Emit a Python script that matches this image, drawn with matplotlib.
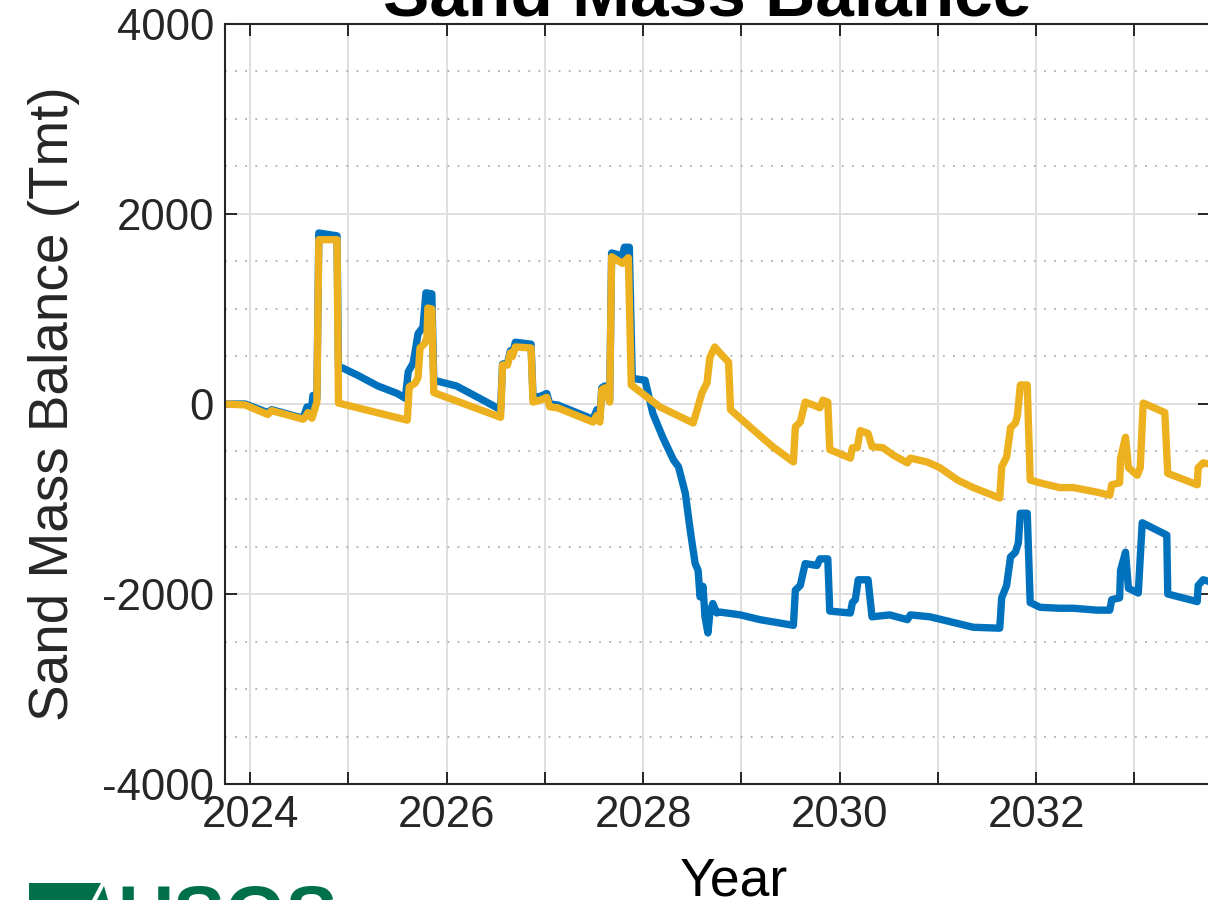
import matplotlib
matplotlib.use("Agg")
import matplotlib.pyplot as plt
from matplotlib.ticker import FixedLocator, FuncFormatter, MultipleLocator
from matplotlib.patches import Polygon

plt.rcParams['font.family'] = ['Liberation Sans', 'DejaVu Sans']

# series 1 (blue)
years_1 = [2023.75, 2023.95, 2024.18, 2024.22, 2024.54, 2024.58, 2024.62, 2024.64, 2024.68, 2024.70,
           2024.885, 2024.90, 2024.94, 2025.10, 2025.30, 2025.50, 2025.58, 2025.61, 2025.66, 2025.71,
           2025.76, 2025.79, 2025.85, 2025.87, 2026.10, 2026.30, 2026.55, 2026.57, 2026.62, 2026.65,
           2026.67, 2026.70, 2026.86, 2026.88, 2026.95, 2027.02, 2027.05, 2027.13, 2027.49, 2027.53,
           2027.56, 2027.58, 2027.61, 2027.66, 2027.68, 2027.79, 2027.81, 2027.86, 2027.89, 2028.02,
           2028.10, 2028.20, 2028.31, 2028.36, 2028.43, 2028.48, 2028.53, 2028.56, 2028.58, 2028.61,
           2028.63, 2028.66, 2028.68, 2028.71, 2028.75, 2028.78, 2028.99, 2029.19, 2029.53, 2029.55,
           2029.60, 2029.65, 2029.77, 2029.80, 2029.88, 2029.90, 2030.11, 2030.13, 2030.16, 2030.19,
           2030.29, 2030.33, 2030.51, 2030.69, 2030.72, 2030.92, 2031.16, 2031.36, 2031.63, 2031.65,
           2031.70, 2031.74, 2031.79, 2031.82, 2031.84, 2031.91, 2031.94, 2032.04, 2032.24, 2032.38,
           2032.62, 2032.75, 2032.77, 2032.85, 2032.86, 2032.91, 2032.94, 2033.04, 2033.08, 2033.33,
           2033.34, 2033.64, 2033.65, 2033.70, 2033.80]
balance_1 = [0, 0, -90, -60, -150, -30, -110, 90, 60, 1800,
             1770, 380, 380, 300, 190, 110, 60, 340, 430, 740,
             810, 1170, 1160, 250, 190, 80, -60, 420, 430, 560,
             520, 650, 630, 70, 80, 110, 0, -10, -160, -60,
             -150, 170, 190, 40, 1590, 1560, 1650, 1650, 270, 250,
             -100, -350, -590, -660, -940, -1330, -1680, -1750, -2030, -1920,
             -2240, -2410, -2200, -2100, -2200, -2190, -2220, -2270, -2330, -1960,
             -1910, -1680, -1700, -1630, -1630, -2180, -2200, -2090, -2060, -1850,
             -1850, -2240, -2220, -2270, -2220, -2240, -2300, -2350, -2360, -2040,
             -1910, -1610, -1560, -1460, -1150, -1150, -2090, -2140, -2150, -2150,
             -2170, -2170, -2060, -2040, -1750, -1560, -1940, -1990, -1250, -1380,
             -2000, -2080, -1910, -1850, -1880]

# series 2 (yellow)
years_2 = [2023.75, 2023.95, 2024.18, 2024.22, 2024.54, 2024.56, 2024.59, 2024.63, 2024.68, 2024.70,
           2024.885, 2024.90, 2025.60, 2025.62, 2025.68, 2025.71, 2025.73, 2025.78, 2025.80, 2025.81,
           2025.85, 2025.87, 2026.55, 2026.57, 2026.62, 2026.65, 2026.67, 2026.70, 2026.86, 2026.88,
           2026.95, 2027.02, 2027.05, 2027.13, 2027.49, 2027.53, 2027.56, 2027.58, 2027.61, 2027.66,
           2027.68, 2027.79, 2027.85, 2027.88, 2028.17, 2028.51, 2028.55, 2028.60, 2028.65, 2028.68,
           2028.73, 2028.78, 2028.87, 2028.89, 2029.12, 2029.32, 2029.53, 2029.55, 2029.60, 2029.65,
           2029.73, 2029.80, 2029.83, 2029.88, 2029.90, 2030.11, 2030.13, 2030.18, 2030.21, 2030.29,
           2030.33, 2030.44, 2030.55, 2030.69, 2030.72, 2030.89, 2031.02, 2031.20, 2031.36, 2031.63,
           2031.65, 2031.70, 2031.74, 2031.79, 2031.81, 2031.84, 2031.91, 2031.94, 2032.04, 2032.24,
           2032.38, 2032.63, 2032.75, 2032.77, 2032.85, 2032.86, 2032.91, 2032.94, 2033.03, 2033.06,
           2033.09, 2033.31, 2033.34, 2033.64, 2033.65, 2033.70, 2033.80]
balance_2 = [0, -10, -110, -70, -160, -140, -90, -150, 20, 1730,
             1730, 10, -170, 180, 220, 280, 590, 640, 700, 1010,
             1000, 120, -140, 410, 410, 540, 500, 600, 590, 20,
             40, 70, -30, -40, -190, -120, -190, 150, 170, 20,
             1550, 1480, 1540, 200, -30, -200, -60, 120, 220, 490,
             600, 540, 440, -60, -270, -450, -610, -240, -190, 20,
             -10, -40, 40, 20, -480, -570, -460, -460, -280, -310,
             -450, -460, -540, -620, -570, -610, -670, -800, -880, -990,
             -660, -560, -250, -200, -120, 200, 200, -800, -830, -880,
             -880, -930, -960, -850, -830, -570, -350, -670, -750, -670,
             10, -90, -730, -850, -670, -620, -640]

year_ticks = list(range(2024, 2034))
y_ticks = [-4000, -2000, 0, 2000, 4000]

fig = plt.figure(figsize=(12.08, 9), dpi=100)
ax = fig.add_axes([225 / 1208, 1 - 784 / 900, 985 / 1208, 760 / 900])

ax.plot(years_1, balance_1, color='#0072BD', lw=5.3, solid_joinstyle='round', solid_capstyle='butt')
ax.plot(years_2, balance_2, color='#EDB120', lw=5.3, solid_joinstyle='round', solid_capstyle='butt')

ax.set_xlim(2023.745, 2033.77)
ax.set_ylim(-4000, 4000)

ax.xaxis.set_major_locator(FixedLocator(year_ticks))
ax.xaxis.set_major_formatter(FuncFormatter(lambda v, p: str(int(round(v))) if int(round(v)) % 2 == 0 else ''))
ax.yaxis.set_major_locator(FixedLocator(y_ticks))
ax.yaxis.set_major_formatter(FuncFormatter(lambda v, p: str(int(v))))
ax.yaxis.set_minor_locator(MultipleLocator(500))

ax.grid(True, which='major', color='#dcdcdc', lw=1.3)
ax.grid(True, which='minor', axis='y', color='#b0b0b0', lw=1.3, linestyle=(0, (1, 4.6)))
ax.set_axisbelow(True)

ax.tick_params(which='major', direction='in', length=8.5, width=1.4, color='#262626',
               labelsize=31.5, labelcolor='#262626', top=True, right=True, pad=8)
ax.tick_params(which='minor', length=0)
for s in ax.spines.values():
    s.set_color('#262626')
    s.set_linewidth(1.5)

fig.text(68 / 1208, 1 - 403.5 / 900, 'Sand Mass Balance (Tmt)', rotation=90, rotation_mode='anchor',
         ha='center', va='baseline', fontsize=39.5, color='#262626')
fig.text(734 / 1208, 1 - 895 / 900, 'Year', ha='center', va='baseline', fontsize=38.5, color='#000000')
fig.text(707 / 1208, 1 - 16 / 900, 'Sand Mass Balance', ha='center', va='baseline',
         fontsize=50, fontweight='bold', color='black')

# logo in the lower left corner
usgs_green = '#00704A'
fig.patches.append(Polygon([(29 / 1208, 1 - 883 / 900), (101 / 1208, 1 - 883 / 900),
                            (92 / 1208, 1 - 900 / 900), (29 / 1208, 1 - 900 / 900)],
                           closed=True, transform=fig.transFigure, color=usgs_green, lw=0))
fig.patches.append(Polygon([(104 / 1208, 1 - 886 / 900), (108 / 1208, 1 - 900 / 900),
                            (97 / 1208, 1 - 900 / 900)],
                           closed=True, transform=fig.transFigure, color=usgs_green, lw=0))
fig.text(117 / 1208, 1 - 883 / 900, 'USGS', ha='left', va='top', fontsize=56,
         fontweight='heavy', color=usgs_green)

fig.savefig('out.png', dpi=100)
